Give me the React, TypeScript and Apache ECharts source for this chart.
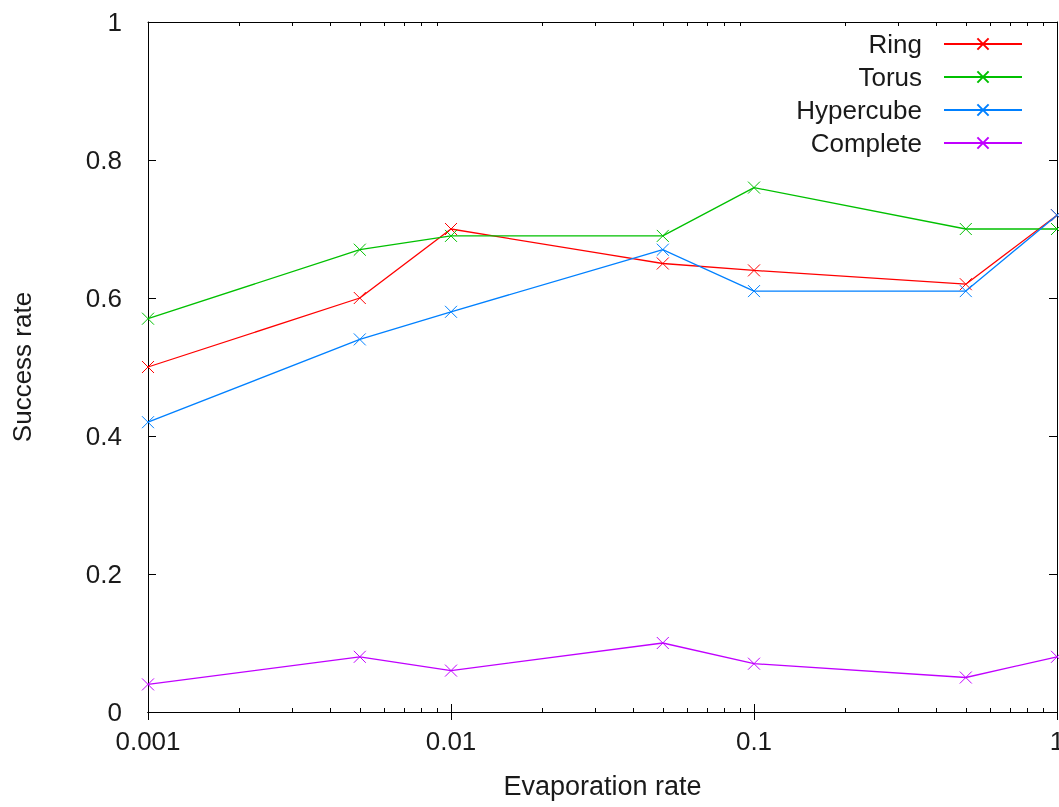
import React, { useEffect, useRef } from "react";
import * as echarts from "echarts";

const xValues = [0.001, 0.005, 0.01, 0.05, 0.1, 0.5, 1];
const ring = [0.5, 0.6, 0.7, 0.65, 0.64, 0.62, 0.72];
const torus = [0.57, 0.67, 0.69, 0.69, 0.76, 0.7, 0.7];
const hypercube = [0.42, 0.54, 0.58, 0.67, 0.61, 0.61, 0.72];
const complete = [0.04, 0.08, 0.06, 0.1, 0.07, 0.05, 0.08];
const seriesNames = ["Ring", "Torus", "Hypercube", "Complete"];
const seriesColors = ["#ff0000", "#00c000", "#0080ff", "#c000ff"];
const majorTicks = [0.001, 0.01, 0.1, 1];
const minorTicks = [
  0.002, 0.003, 0.004, 0.005, 0.006, 0.007, 0.008, 0.009,
  0.02, 0.03, 0.04, 0.05, 0.06, 0.07, 0.08, 0.09,
  0.2, 0.3, 0.4, 0.5, 0.6, 0.7, 0.8, 0.9,
];

const FONT = "'Liberation Sans', Arial, sans-serif";
const TEXT_COLOR = "#1a1a1a";
const CROSS = "path://M0,0L10,10M0,10L10,0";

export default function App() {
  const ref = useRef<HTMLDivElement>(null);
  useEffect(() => {
    if (!ref.current) return;
    const chart = echarts.init(ref.current, null, { renderer: "svg" });
    const allData = [ring, torus, hypercube, complete];
    const axisLine = { show: true, lineStyle: { color: "#000", width: 1 } };
    const baseLog = {
      type: "log" as const,
      logBase: 10,
      min: 0.001,
      max: 1,
      gridIndex: 0,
      splitLine: { show: false },
      axisLine,
    };
    const legendTops = [31, 64, 97, 130];
    const option: any = {
      animation: false,
      textStyle: { fontFamily: FONT },
      grid: {
        left: 148,
        top: 22,
        right: 2,
        bottom: 95,
        containLabel: false,
        outerBoundsMode: "none",
      },
      legend: seriesNames.map((n, i) => ({
        data: [n],
        orient: "vertical",
        right: 36,
        top: legendTops[i],
        align: "right",
        padding: 0,
        itemWidth: 78,
        itemHeight: 14,
        selectedMode: false,
        textStyle: {
          fontSize: 26,
          fontFamily: FONT,
          color: TEXT_COLOR,
          padding: [0, 17, 0, 0],
        },
      })),
      xAxis: [
        {
          ...baseLog,
          position: "bottom",
          name: "Evaporation rate",
          nameLocation: "middle",
          nameGap: 60,
          nameTextStyle: { fontSize: 27, color: TEXT_COLOR, fontFamily: FONT },
          axisTick: { show: true, inside: true, length: 8, lineStyle: { color: "#000" }, customValues: majorTicks },
          axisLabel: {
            show: true,
            margin: 16,
            fontSize: 26,
            color: TEXT_COLOR,
            fontFamily: FONT,
            customValues: majorTicks,
            formatter: (v: number) => String(v),
          },
        },
        {
          ...baseLog,
          position: "top",
          axisTick: { show: true, inside: true, length: 8, lineStyle: { color: "#000" }, customValues: majorTicks },
          axisLabel: { show: false },
        },
        {
          ...baseLog,
          position: "bottom",
          axisTick: { show: true, inside: true, length: 4, lineStyle: { color: "#000" }, customValues: minorTicks },
          axisLabel: { show: false },
        },
        {
          ...baseLog,
          position: "top",
          axisTick: { show: true, inside: true, length: 4, lineStyle: { color: "#000" }, customValues: minorTicks },
          axisLabel: { show: false },
        },
      ],
      yAxis: [
        {
          type: "value",
          min: 0,
          max: 1,
          interval: 0.2,
          position: "left",
          splitLine: { show: false },
          axisLine,
          name: "Success rate",
          nameLocation: "middle",
          nameGap: 113,
          nameTextStyle: { fontSize: 26, color: TEXT_COLOR, fontFamily: FONT },
          axisTick: { show: true, inside: true, length: 8, lineStyle: { color: "#000" } },
          axisLabel: { show: true, margin: 26, fontSize: 26, color: TEXT_COLOR, fontFamily: FONT },
        },
        {
          type: "value",
          min: 0,
          max: 1,
          interval: 0.2,
          position: "right",
          splitLine: { show: false },
          axisLine,
          axisTick: { show: true, inside: true, length: 8, lineStyle: { color: "#000" } },
          axisLabel: { show: false },
        },
      ],
      series: seriesNames.map((n, i) => ({
        name: n,
        type: "line",
        xAxisIndex: 0,
        yAxisIndex: 0,
        data: xValues.map((x, j) => [x, allData[i][j]]),
        symbol: CROSS,
        symbolSize: 12,
        showSymbol: true,
        color: seriesColors[i],
        itemStyle: { color: seriesColors[i], borderColor: seriesColors[i], borderWidth: 1 },
        lineStyle: { color: seriesColors[i], width: 1.3 },
        emphasis: { disabled: true },
        clip: false,
      })),
    };
    chart.setOption(option);
    return () => chart.dispose();
  }, []);
  return (
    <div
      ref={ref}
      style={{ position: "fixed", left: 0, top: 0, width: 1059, height: 807 }}
    />
  );
}
